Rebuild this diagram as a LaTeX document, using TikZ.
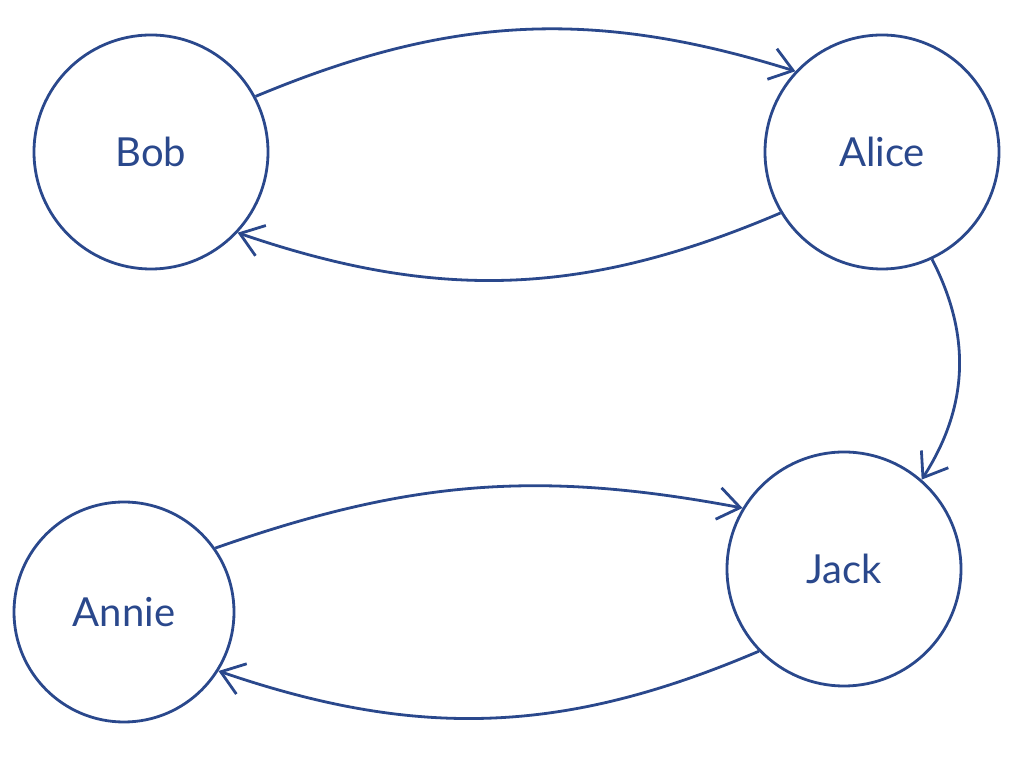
\documentclass[tikz,border=0pt]{standalone}
\usepackage{fontspec}
\setmainfont{Lato}
\usetikzlibrary{arrows.meta}
\definecolor{ink}{RGB}{42,72,140}
\tikzset{
  person/.style={circle,draw=ink,line width=2.8pt,inner sep=0pt,minimum size=234pt,text=ink,font=\fontsize{40}{46}\selectfont},
  link/.style={draw=ink,line width=2.8pt,-{Straight Barb[length=22pt,width=32pt]}}
}
\begin{document}
\begin{tikzpicture}[x=1pt,y=1pt]
\useasboundingbox (0,0) rectangle (1026,757);
\node[person] (bob) at (151,605) {Bob};
\node[person] (alice) at (882,605) {Alice};
\node[person] (jack) at (844,188) {Jack};
\node[person,minimum size=220pt] (annie) at (124,145) {Annie};
\draw[link] (bob.28) to[bend left=20] (alice.137);
\draw[link] (alice.211) to[bend left=21] (bob.317);
\draw[link] (alice.295) to[bend left=30] (jack.49);
\draw[link] (annie.35) to[bend left=15] (jack.149);
\draw[link] (jack.224) to[bend left=21] (annie.328);
\end{tikzpicture}
\end{document}
